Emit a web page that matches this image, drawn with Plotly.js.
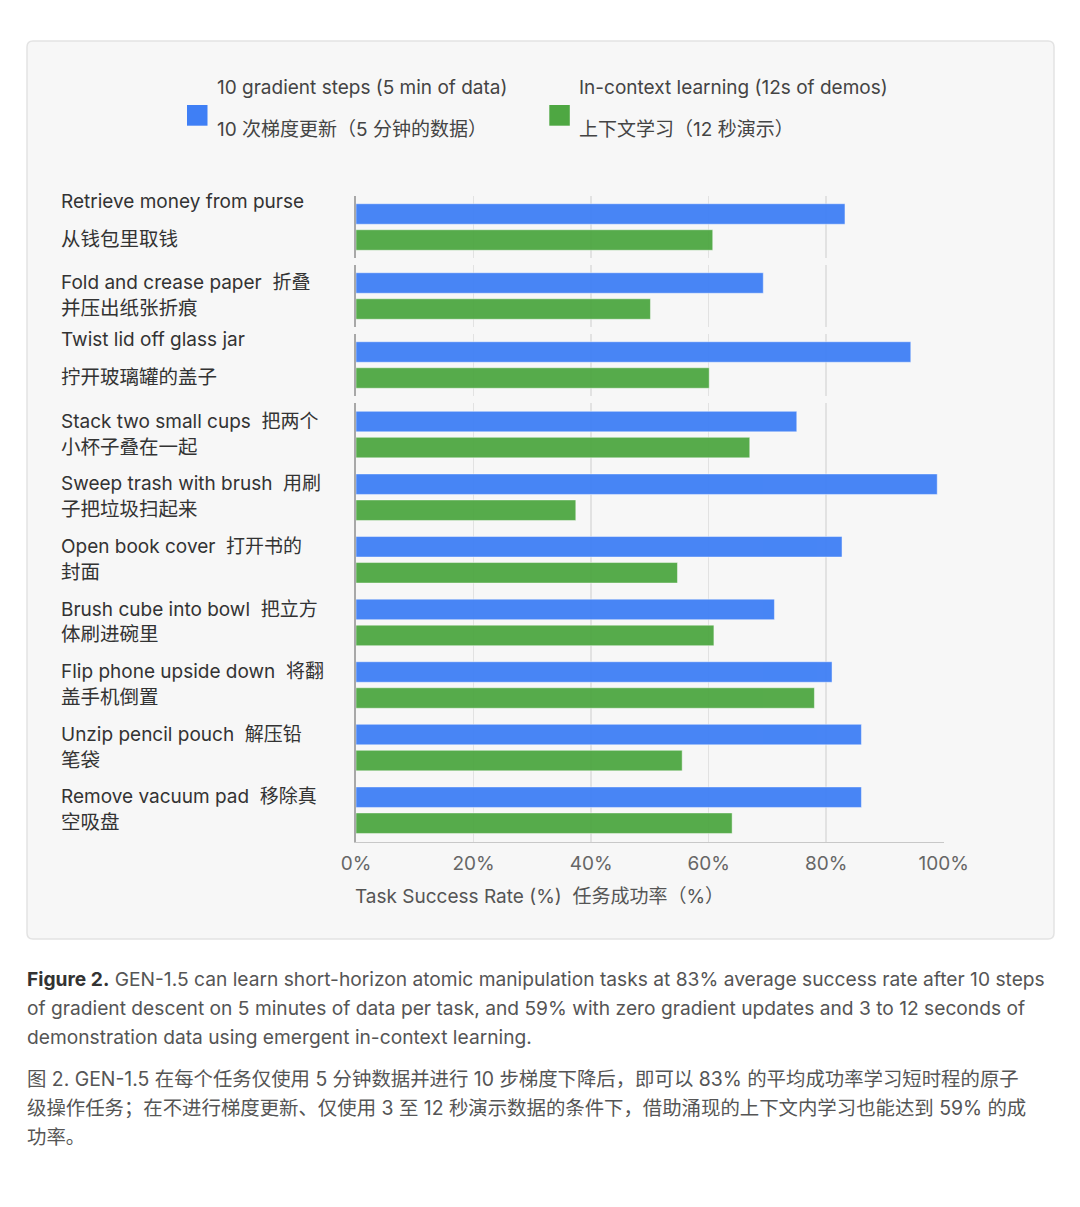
<!DOCTYPE html>
<html>
<head>
<meta charset="utf-8">
<script src="https://cdn.plot.ly/plotly-3.0.1.min.js"></script>
<style>
html,body{margin:0;padding:0;background:#ffffff;}
#chart{width:1080px;height:1207px;}
</style>
</head>
<body>
<div id="chart"></div>
<script>
// ---------- DATA ----------
const categories = [
  "Retrieve money from purse",
  "Fold and crease paper",
  "Twist lid off glass jar",
  "Stack two small cups",
  "Sweep trash with brush",
  "Open book cover",
  "Brush cube into bowl",
  "Flip phone upside down",
  "Unzip pencil pouch",
  "Remove vacuum pad"
];
const labelLine1 = [
  "Retrieve money from purse",
  "Fold and crease paper\u00A0\u00A0折叠",
  "Twist lid off glass jar",
  "Stack two small cups\u00A0\u00A0把两个",
  "Sweep trash with brush\u00A0\u00A0用刷",
  "Open book cover\u00A0\u00A0打开书的",
  "Brush cube into bowl\u00A0\u00A0把立方",
  "Flip phone upside down\u00A0\u00A0将翻",
  "Unzip pencil pouch\u00A0\u00A0解压铅",
  "Remove vacuum pad\u00A0\u00A0移除真"
];
const labelLine2 = [
  "从钱包里取钱",
  "并压出纸张折痕",
  "拧开玻璃罐的盖子",
  "小杯子叠在一起",
  "子把垃圾扫起来",
  "封面",
  "体刷进碗里",
  "盖手机倒置",
  "笔袋",
  "空吸盘"
];
const gradientSteps = [83.2, 69.3, 94.4, 75.0, 98.9, 82.7, 71.2, 81.0, 86.0, 86.0];
const inContext     = [60.7, 50.1, 60.1, 67.0, 37.4, 54.7, 60.9, 78.0, 55.5, 64.0];
const seriesNamesEn = ["10 gradient steps (5 min of data)", "In-context learning (12s of demos)"];
const seriesNamesZh = ["10 次梯度更新（5 分钟的数据）", "上下文学习（12 秒演示）"];
const xTickVals = [0, 20, 40, 60, 80, 100];
const axisTitle = "Task Success Rate (%)\u00A0\u00A0任务成功率（%）";
const captionEn = [
  "<b style=\"color:#333\">Figure 2.</b> GEN-1.5 can learn short-horizon atomic manipulation tasks at 83% average success rate after 10 steps",
  "of gradient descent on 5 minutes of data per task, and 59% with zero gradient updates and 3 to 12 seconds of",
  "demonstration data using emergent in-context learning."
];
const captionZh = [
  "图 2. GEN-1.5 在每个任务仅使用 5 分钟数据并进行 10 步梯度下降后，即可以 83% 的平均成功率学习短时程的原子",
  "级操作任务；在不进行梯度更新、仅使用 3 至 12 秒演示数据的条件下，借助涌现的上下文内学习也能达到 59% 的成",
  "功率。"
];

// ---------- LAYOUT ----------
const W = 1080, H = 1207;
const px = x => x / W;
const py = y => 1 - y / H;
const FONT = "Inter, 'Noto Sans CJK SC', 'Noto Sans', sans-serif";
const FS = 19;
const BLUE = "#3f7ff5";
const GREEN = "#4ea742";
const colors = [BLUE, GREEN];

const X0 = 356, X1 = 943.7;
const band = 62.6;
const blockTops = [195.7, 264.7, 333.7, 403.3];
const blockSizes = [1, 1, 1, 7];

const layout = {
  width: W, height: H,
  margin: {l: 0, r: 0, t: 0, b: 0},
  paper_bgcolor: "#ffffff",
  plot_bgcolor: "rgba(0,0,0,0)",
  font: {family: FONT, size: FS, color: "#444"},
  barmode: "group",
  bargap: 0.169,
  bargroupgap: 0.2115,
  showlegend: false,
  shapes: [],
  annotations: []
};

// panel with rounded corners
(function () {
  const l = 27, r = 1054, t = 41, b = 939, rad = 6;
  const p = `M ${px(l + rad)},${py(t)} L ${px(r - rad)},${py(t)} Q ${px(r)},${py(t)} ${px(r)},${py(t + rad)} ` +
            `L ${px(r)},${py(b - rad)} Q ${px(r)},${py(b)} ${px(r - rad)},${py(b)} ` +
            `L ${px(l + rad)},${py(b)} Q ${px(l)},${py(b)} ${px(l)},${py(b - rad)} ` +
            `L ${px(l)},${py(t + rad)} Q ${px(l)},${py(t)} ${px(l + rad)},${py(t)} Z`;
  layout.shapes.push({type: "path", path: p, xref: "paper", yref: "paper", layer: "below",
    fillcolor: "#f7f7f7", line: {color: "#e3e3e3", width: 1.5}});
})();

const traces = [];
let start = 0;
blockSizes.forEach((n, b) => {
  const idx = b ? String(b + 1) : "";
  const cats = categories.slice(start, start + n);
  const top = blockTops[b], bot = top + n * band;
  const last = b === blockSizes.length - 1;
  layout["xaxis" + idx] = {
    domain: [px(X0), px(X1)], range: [0, 100], anchor: "y" + idx,
    tickmode: "array", tickvals: xTickVals, ticktext: xTickVals.map(v => v + "%"),
    showticklabels: last, ticks: "", ticklabelstandoff: 4,
    showgrid: true, gridcolor: "#e2e2e2", gridwidth: 1.5,
    zeroline: false, showline: last, linecolor: "#c8c8c8", linewidth: 1.5,
    tickfont: {size: FS, color: "#666"}, fixedrange: true
  };
  layout["yaxis" + idx] = {
    domain: [py(bot), py(top)], anchor: "x" + idx, type: "category",
    categoryorder: "array", categoryarray: cats, range: [n - 0.5, -0.5], autorange: false,
    showticklabels: false, showgrid: false, zeroline: false, ticks: "",
    showline: true, linecolor: "#a8a8a8", linewidth: 2, fixedrange: true
  };
  [gradientSteps, inContext].forEach((vals, s) => {
    traces.push({
      type: "bar", orientation: "h",
      x: vals.slice(start, start + n), y: cats,
      xaxis: "x" + idx, yaxis: "y" + idx,
      name: seriesNamesEn[s],
      marker: {color: colors[s], line: {color: "rgba(255,255,255,0.45)", width: 1}},
      opacity: 0.95, hoverinfo: "skip"
    });
  });
  cats.forEach((c, i) => {
    const k = start + i;
    const spread = !/[\u4e00-\u9fff]/.test(labelLine1[k]);
    layout.annotations.push({xref: "paper", yref: "y" + idx, x: px(58.5), y: i,
      xanchor: "left", yanchor: "middle", showarrow: false, align: "left",
      yshift: spread ? 25.5 : 13.3, text: labelLine1[k], font: {size: FS, color: "#333"}});
    layout.annotations.push({xref: "paper", yref: "y" + idx, x: px(58.5), y: i,
      xanchor: "left", yanchor: "middle", showarrow: false, align: "left",
      yshift: -12, text: labelLine2[k], font: {size: 19.5, color: "#333"}});
  });
  start += n;
});

// axis title (left aligned with plot)
layout.annotations.push({xref: "paper", yref: "paper", x: px(352.5), y: py(896.7),
  xanchor: "left", yanchor: "middle", showarrow: false, text: axisTitle,
  font: {size: FS, color: "#555"}});

// legend (manual)
const legendX = [187, 549.3];
seriesNamesEn.forEach((nm, s) => {
  const lx = legendX[s];
  layout.shapes.push({type: "rect", xref: "paper", yref: "paper",
    x0: px(lx), x1: px(lx + 20.5), y0: py(125.7), y1: py(105),
    fillcolor: colors[s], line: {width: 0}});
  layout.annotations.push({xref: "paper", yref: "paper", x: px(lx + 28), y: py(87.3),
    xanchor: "left", yanchor: "middle", showarrow: false, text: nm,
    font: {size: FS, color: "#444"}});
  layout.annotations.push({xref: "paper", yref: "paper", x: px(lx + 28), y: py(129.3),
    xanchor: "left", yanchor: "middle", showarrow: false, text: seriesNamesZh[s],
    font: {size: FS, color: "#444"}});
});

// caption
const capYEn = [979, 1008, 1037], capYZh = [1079, 1108, 1137];
captionEn.forEach((t, i) => layout.annotations.push({xref: "paper", yref: "paper",
  x: px(25), y: py(capYEn[i]), xanchor: "left", yanchor: "middle", showarrow: false,
  text: t, font: {size: 19.2, color: "#555"}}));
captionZh.forEach((t, i) => layout.annotations.push({xref: "paper", yref: "paper",
  x: px(25), y: py(capYZh[i]), xanchor: "left", yanchor: "middle", showarrow: false,
  text: t, font: {size: 19.4, color: "#555"}}));

Plotly.newPlot("chart", traces, layout, {displayModeBar: false, staticPlot: true});
</script>
</body>
</html>
